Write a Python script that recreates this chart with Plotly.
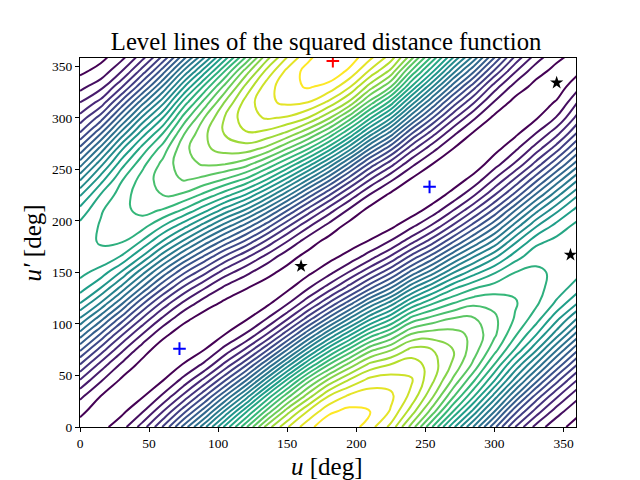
import numpy as np
import plotly.graph_objects as go
from plotly.colors import sample_colorscale

u_deg = list(range(0, 361, 15))
up_deg = list(range(0, 361, 15))

c000 = [.7,1.2,2.3,3.9,5.9,8.2,10.6,12.9,15.0,16.5,17.3,17.6,17.6,17.3,16.4,14.9,12.9,10.6,8.3,6.1,4.4,3.0,1.7,.8,.7]
c015 = [.7,.6,1.0,2.1,3.6,5.6,7.9,10.4,12.9,15.0,16.6,17.7,18.1,18.1,17.9,17.1,15.6,13.7,11.4,8.9,6.5,4.4,2.7,1.4,.7]
c030 = [1.6,.8,.5,.85,1.8,3.3,5.2,7.6,10.2,12.7,14.9,16.9,18.1,18.6,18.7,18.5,17.9,16.6,14.8,12.4,9.8,7.3,4.9,3.0,1.6]
c045 = [3.5,1.9,.9,.5,.7,1.5,3.0,4.9,7.2,9.9,12.4,14.9,16.9,18.4,19.3,19.6,19.4,18.7,17.4,15.5,13.2,10.6,7.9,5.5,3.5]
c060 = [6.1,4.0,2.2,1.0,.4,.5,1.3,2.8,4.7,7.1,9.7,12.4,14.9,17.0,18.9,20.0,20.5,20.3,19.5,18.0,16.0,13.7,11.2,8.6,6.1]
c075 = [9.4,6.7,4.3,2.4,1.1,.4,.5,1.3,2.8,4.8,7.2,10.0,12.8,15.4,17.8,19.8,21.1,21.7,21.7,20.9,19.4,17.4,14.9,12.2,9.4]
c090 = [12.7,9.7,6.9,4.4,2.3,1.0,.4,.6,1.5,3.1,5.3,7.8,10.6,13.5,16.3,18.7,20.7,22.1,22.8,22.8,22.0,20.4,18.3,15.6,12.7]
c105 = [16.3,13.2,10.0,7.0,4.4,2.4,1.0,.5,.8,1.8,3.5,5.8,8.6,11.5,14.5,17.4,19.9,22.0,23.4,24.1,24.1,23.1,21.4,19.1,16.3]
c120 = [19.8,16.8,13.4,10.0,6.9,4.2,2.1,.9,.55,1.05,2.3,4.2,6.8,9.6,12.8,15.9,18.8,21.4,23.5,24.9,25.6,25.4,24.3,22.5,19.8]
c135 = [23.4,20.3,17.2,13.6,10.1,6.8,4.0,2.0,.8,.6,1.3,2.7,4.8,7.5,10.5,13.8,17.0,19.9,22.7,24.7,26.1,26.8,26.5,25.3,23.4]
c150 = [25.9,23.6,20.6,17.3,13.6,10.0,6.7,3.9,1.9,.8,.7,1.4,3.0,5.2,8.0,11.3,14.7,18.0,21.0,23.8,25.9,27.2,27.7,27.3,25.9]
c165 = [27.7,26.1,23.5,20.7,17.1,13.4,9.8,6.5,3.8,1.9,.8,.7,1.5,3.2,5.6,8.6,12.0,15.6,19.1,22.2,25.0,27.0,28.1,28.4,27.7]
c180 = [28.7,27.8,26.0,23.3,20.1,16.6,12.9,9.3,6.1,3.5,1.7,.7,.7,1.7,3.5,6.1,9.3,12.8,16.5,20.0,23.2,25.8,27.7,28.7,28.7]
c195 = [28.6,28.3,27.2,25.2,22.5,19.3,15.7,12.1,8.6,5.5,3.1,1.4,.55,.7,1.8,3.8,6.5,9.7,13.4,17.0,20.5,23.8,26.1,27.8,28.6]
c210 = [27.4,28.0,27.6,26.4,24.4,21.7,18.4,14.8,11.3,7.8,4.9,2.6,1.1,.4,.7,1.9,4.0,6.7,10.0,13.6,17.2,20.6,23.5,25.8,27.4]
c225 = [25.7,26.9,27.2,26.6,25.1,22.9,20.1,16.9,13.5,10.0,6.9,4.2,2.1,.8,.35,.8,2.2,4.4,7.3,10.6,14.1,17.6,21.0,23.7,25.7]
c240 = [22.6,24.5,25.7,26.1,25.6,24.3,22.1,19.4,16.2,12.8,9.4,6.4,3.7,1.8,.6,.3,.9,2.3,4.4,7.1,10.3,13.6,16.9,19.8,22.6]
c255 = [19.0,21.5,23.2,24.2,24.5,24.0,22.5,20.4,17.9,14.9,11.6,8.5,5.6,3.2,1.5,.5,.3,1.0,2.4,4.5,7.1,10.0,13.1,16.2,19.0]
c270 = [15.3,18.0,20.2,21.8,22.8,23.0,22.4,21.1,19.0,16.8,13.9,10.9,7.9,5.2,3.0,1.4,.5,.3,1.0,2.3,4.3,6.7,9.5,12.4,15.3]
c285 = [11.9,14.6,17.1,19.1,20.7,21.5,21.7,21.1,19.8,17.9,15.6,13.0,10.2,7.5,5.0,2.9,1.4,.5,.35,.9,2.2,4.1,6.4,9.1,11.9]
c300 = [8.3,11.0,13.6,16.0,17.9,19.4,20.2,20.2,19.7,18.5,16.9,14.8,12.3,9.8,7.3,5.0,3.1,1.6,.7,.4,.8,1.9,3.5,5.8,8.3]
c315 = [5.0,7.3,10.0,12.6,14.8,16.9,18.2,18.9,19.1,18.8,18.0,16.6,14.8,12.5,10.0,7.4,5.2,3.2,1.8,.8,.45,.7,1.6,3.1,5.0]
c330 = [2.7,4.6,6.7,9.3,11.8,14.2,16.1,17.5,18.2,18.3,18.2,17.7,16.7,14.9,12.7,10.2,7.7,5.4,3.5,2.0,.9,.5,.7,1.4,2.7]
c345 = [1.3,2.5,4.2,6.3,8.7,11.1,13.5,15.3,16.8,17.6,17.8,17.7,17.3,16.4,14.8,12.7,10.4,7.9,5.6,3.7,2.1,1.1,.55,.7,1.3]
c360 = [.7,1.2,2.3,3.9,5.9,8.2,10.6,12.9,15.0,16.5,17.3,17.6,17.6,17.3,16.4,14.9,12.9,10.6,8.3,6.1,4.4,3.0,1.7,.8,.7]

columns = [c000,c015,c030,c045,c060,c075,c090,c105,c120,c135,c150,c165,c180,
           c195,c210,c225,c240,c255,c270,c285,c300,c315,c330,c345,c360]
z = np.array(columns).T
levels = list(range(1, 29))

blue_u = [72, 253]
blue_up = [76, 233]
red_u = [183]
red_up = [355]
star_u = [160, 345, 355]
star_up = [156, 334, 167]

title_text = "Level lines of the squared distance function"
x_title = "<i>u</i> [deg]"
y_title = "<i>u′</i> [deg]"
serif = "Liberation Serif"

level_colors = sample_colorscale("Viridis", [(k - 1) / 27 for k in levels])

fig = go.Figure()
# each level line is contoured on the square root of the table, which is close to
# linear across the bands, so the traced lines come out straighter
root_z = np.sqrt(z)
for k, col in zip(levels, level_colors):
    fig.add_trace(go.Contour(
        x=u_deg, y=up_deg, z=root_z, showscale=False, hoverinfo="skip",
        autocontour=False,
        contours=dict(coloring="none", start=k ** 0.5, end=k ** 0.5, size=1),
        line=dict(width=2, smoothing=1.3, color=col),
    ))
fig.add_trace(go.Scatter(x=blue_u, y=blue_up, mode="markers", showlegend=False,
    marker=dict(symbol="cross-thin", size=9, line=dict(color="#0000ff", width=2), color="#0000ff")))
fig.add_trace(go.Scatter(x=red_u, y=red_up, mode="markers", showlegend=False,
    marker=dict(symbol="cross-thin", size=9, line=dict(color="#ff0000", width=2), color="#ff0000")))
fig.add_trace(go.Scatter(x=star_u, y=star_up, mode="markers", showlegend=False,
    marker=dict(symbol="star", size=10, color="black")))

axis = dict(showgrid=False, zeroline=False, showline=True, linecolor="black", linewidth=1,
            mirror=True, ticks="outside", ticklen=4, tickcolor="black", tickwidth=1,
            tick0=0, dtick=50, automargin=False,
            tickfont=dict(family=serif, size=13.5, color="black"))
fig.update_layout(
    width=640, height=480, autosize=False, showlegend=False,
    margin=dict(l=72, r=72, t=50, b=61),
    paper_bgcolor="white", plot_bgcolor="white",
    title=dict(text=title_text, x=0.497, xanchor="center", y=0.931, yanchor="middle",
               font=dict(family=serif, size=24.7, color="black")),
    xaxis=dict(range=[0, 359], **axis),
    yaxis=dict(range=[0, 358], **axis),
    annotations=[
        dict(text=x_title, xref="paper", yref="paper", x=0.497, y=-0.108, showarrow=False,
             xanchor="center", yanchor="middle", font=dict(family=serif, size=25, color="black")),
        dict(text=y_title, xref="paper", yref="paper", x=-0.095, y=0.5, showarrow=False, textangle=-90,
             xanchor="center", yanchor="middle", font=dict(family=serif, size=25, color="black")),
    ],
)
fig.write_html("out.html")
